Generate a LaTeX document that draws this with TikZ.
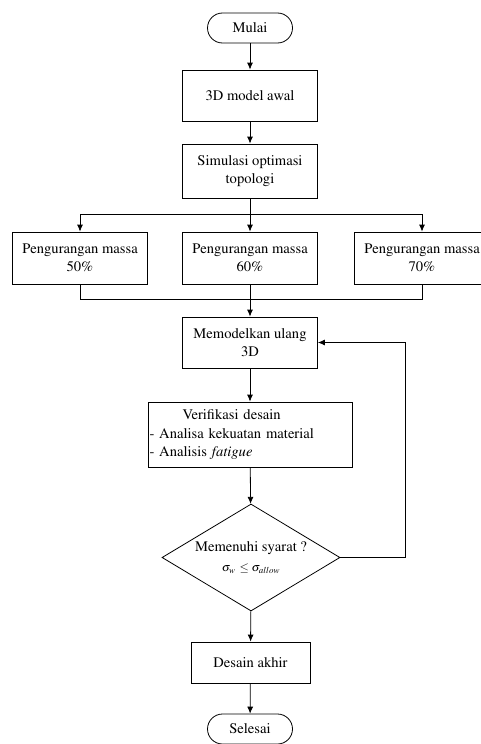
\documentclass[tikz,border=0pt]{standalone}
\usepackage[T1]{fontenc}
\usepackage{mathptmx}
\usetikzlibrary{shapes.geometric}
\usetikzlibrary{arrows.meta}

\begin{document}
\begin{tikzpicture}[x=1pt, y=-1pt, line width=0.8pt,
  font=\fontsize{14.6}{18.5}\selectfont,
  >={Latex[length=7pt,width=6pt]},
  term/.style={draw, rectangle, rounded corners=15pt, minimum width=85pt, minimum height=30pt, inner sep=1pt},
  proc/.style={draw, rectangle, minimum width=135pt, minimum height=52pt, align=center, inner sep=1pt},
  decision/.style={draw, diamond, aspect=1.66, minimum width=178pt, minimum height=107pt, align=center, inner sep=1pt}]

% frame
\useasboundingbox (0,0) rectangle (480,744);

% top part
\node[term] (START) at (250,28) {Mulai};
\node[proc, minimum height=51pt] (MODEL) at (250,95.5) {3D model awal};
\node[proc, minimum height=54pt] (SIM) at (250,171) {Simulasi optimasi\\topologi};

% mass reduction
\node[proc] (RED50) at (80,258) {Pengurangan massa\\50\%};
\node[proc] (RED60) at (250,258) {Pengurangan massa\\60\%};
\node[proc] (RED70) at (422,258) {Pengurangan massa\\70\%};

\coordinate (SPLIT) at (250,214);
\coordinate (MERGE) at (250,299);

% redesign and check
\node[proc, minimum height=51pt] (REMODEL) at (250,342.5) {Memodelkan ulang\\3D};
\node[proc, minimum width=204pt, text width=201pt, minimum height=65pt, align=left, inner xsep=1.5pt] (VERIF) at (250,434.5)
  {\begin{tabular}{@{}l@{}}\multicolumn{1}{@{}c@{}}{Verifikasi desain}\\- Analisa kekuatan material\\- Analisis \textit{fatigue}\end{tabular}};
\node[decision] (CHECK) at (251,557.5) {Memenuhi syarat ?\\[2pt]{\fontsize{12}{14}\selectfont $\sigma_w \,\leq \sigma_{allow}$}};
\node[proc, minimum width=119pt, minimum height=41pt] (FINAL) at (250.5,662.5) {Desain akhir};
\node[term] (STOP) at (250,729) {Selesai};

\coordinate (LOOP) at (405,557.5);

% connectors
\draw[->] (START) -- (MODEL);
\draw[->] (MODEL) -- (SIM);
\draw (SIM) -- (SPLIT);
\draw[->] (SPLIT) -| (RED50);
\draw[->] (SPLIT) -- (RED60);
\draw[->] (SPLIT) -| (RED70);
\draw (RED50) |- (MERGE);
\draw (RED70) |- (MERGE);
\draw (RED60) -- (MERGE);
\draw[->] (MERGE) -- (REMODEL);
\draw[->] (REMODEL) -- (VERIF);
\draw[->] (VERIF) -- (CHECK);
\draw[->] (CHECK) -- (LOOP) |- (REMODEL);
\draw[->] (CHECK) -- (FINAL);
\draw[->] (FINAL) -- (STOP);

\end{tikzpicture}
\end{document}
